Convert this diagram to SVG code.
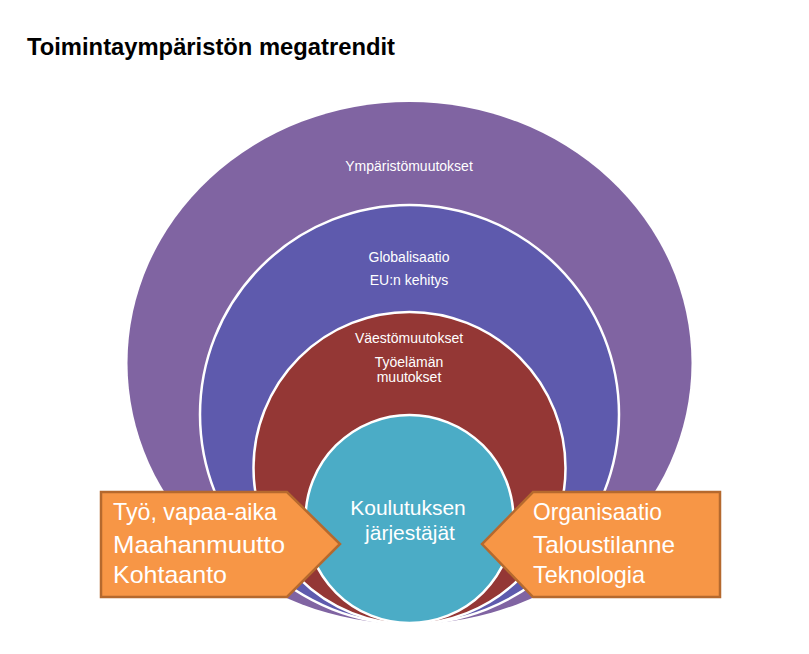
<svg xmlns="http://www.w3.org/2000/svg" width="809" height="654" viewBox="0 0 809 654">
  <style>
    .lbl { font-family: "Liberation Sans", Arial, sans-serif; fill: #ffffff; text-anchor: middle; }
    .small { font-size: 14px; }
    .ring { stroke: #ffffff; stroke-width: 2.5; }
    .arrow { fill: #F79646; stroke: #B5692E; stroke-width: 2.5; stroke-linejoin: miter; }
    .atext { font-family: "Liberation Sans", Arial, sans-serif; fill: #ffffff; font-size: 24px; }
  </style>
  <rect width="809" height="654" fill="#ffffff"/>
  <text x="27" y="55" font-family="Liberation Sans, Arial, sans-serif" font-weight="bold" font-size="24" fill="#000000" textLength="368" lengthAdjust="spacingAndGlyphs">Toimintaympäristön megatrendit</text>

  <g id="ymparisto">
    <ellipse cx="409.5" cy="363" rx="282" ry="261" fill="#8064A2"/>
    <text class="lbl small" x="409" y="171">Ympäristömuutokset</text>
  </g>
  <g id="globalisaatio">
    <circle class="ring" cx="409.5" cy="414.5" r="209.5" fill="#5E5AAD"/>
    <text class="lbl small" x="409" y="262">Globalisaatio</text>
    <text class="lbl small" x="409" y="285">EU:n kehitys</text>
  </g>
  <g id="vaesto">
    <circle class="ring" cx="409.5" cy="468" r="156" fill="#943735"/>
    <text class="lbl small" x="409" y="343">Väestömuutokset</text>
    <text class="lbl small" x="409" y="367">Työelämän</text>
    <text class="lbl small" x="409" y="382">muutokset</text>
  </g>
  <g id="koulutus">
    <circle class="ring" cx="409.5" cy="519" r="104" fill="#4BACC6"/>
    <text class="lbl" font-size="21" x="408" y="515">Koulutuksen</text>
    <text class="lbl" font-size="21" x="410" y="540">järjestäjät</text>
  </g>

  <g id="vasen-nuoli">
    <polygon class="arrow" points="101,492 287,492 340,544 287,597 101,597"/>
    <text class="atext" x="113" y="520" textLength="164" lengthAdjust="spacingAndGlyphs">Työ, vapaa-aika</text>
    <text class="atext" x="113" y="553" textLength="172" lengthAdjust="spacingAndGlyphs">Maahanmuutto</text>
    <text class="atext" x="113" y="583" textLength="114" lengthAdjust="spacingAndGlyphs">Kohtaanto</text>
  </g>
  <g id="oikea-nuoli">
    <polygon class="arrow" points="720,492 533,492 482,544 533,597 720,597"/>
    <text class="atext" x="533" y="520" textLength="129" lengthAdjust="spacingAndGlyphs">Organisaatio</text>
    <text class="atext" x="533" y="553" textLength="142" lengthAdjust="spacingAndGlyphs">Taloustilanne</text>
    <text class="atext" x="533" y="583" textLength="112" lengthAdjust="spacingAndGlyphs">Teknologia</text>
  </g>
</svg>
